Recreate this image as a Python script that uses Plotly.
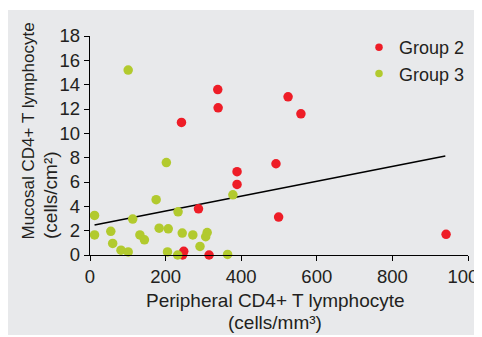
import plotly.graph_objects as go

# Group 2 (red)
g2_x = [338, 339, 242, 524, 558, 287, 248, 245, 315, 389, 389, 492, 499, 942]
g2_y = [13.6, 12.1, 10.9, 13.0, 11.6, 3.8, 0.3, 0.0, 0.0, 6.85, 5.8, 7.5, 3.12, 1.7]

# Group 3 (green)
g3_x = [101, 12, 12, 55, 60, 82, 101, 113, 132, 144, 175, 183, 202, 207, 205,
        233, 232, 244, 272, 291, 310, 306, 364, 378]
g3_y = [15.2, 3.25, 1.65, 1.95, 0.95, 0.4, 0.25, 2.95, 1.65, 1.25, 4.55, 2.2, 7.6,
        2.15, 0.25, 3.55, 0.0, 1.8, 1.65, 0.7, 1.85, 1.5, 0.05, 4.95]

# Regression line endpoints
fit_x = [12, 940]
fit_y = [2.47, 8.13]

x_ticks = [0, 200, 400, 600, 800, 1000]
y_ticks = [0, 2, 4, 6, 8, 10, 12, 14, 16, 18]

RED = "#ee1d27"
GREEN = "#b2ca2e"
TXT = "#231f20"
FONT = "Liberation Sans, Arial, Helvetica, sans-serif"

# page body margin of the html page
OFF = 8
W, H = 482 - OFF, 337 - OFF
L, T = 90 - OFF, 36 - OFF
R = W - (468 - OFF)
B = H - (255 - OFF)
pw = W - L - R
ph = H - T - B

def px(x):  # page pixel -> paper
    return (x - OFF - L) / pw

def py(y):
    return (H - B - (y - OFF)) / ph

fig = go.Figure()
fig.add_trace(go.Scatter(x=fit_x, y=fit_y, mode="lines",
                         line=dict(color="black", width=1.5),
                         showlegend=False, hoverinfo="skip"))
fig.add_trace(go.Scatter(x=g2_x, y=g2_y, mode="markers", name="Group 2",
                         marker=dict(color=RED, size=9.5), cliponaxis=False,
                         showlegend=False))
fig.add_trace(go.Scatter(x=g3_x, y=g3_y, mode="markers", name="Group 3",
                         marker=dict(color=GREEN, size=9.5), cliponaxis=False,
                         showlegend=False))
fig.add_trace(go.Scatter(x=[None], y=[None], mode="markers", name="Group 2",
                         marker=dict(color=RED, size=7.5)))
fig.add_trace(go.Scatter(x=[None], y=[None], mode="markers", name="Group 3",
                         marker=dict(color=GREEN, size=7.5)))

fig.add_shape(type="rect", xref="paper", yref="paper",
              x0=px(7), x1=px(490), y0=py(335), y1=py(10),
              fillcolor="#e8e9eb", line=dict(width=0), layer="below")

ann = dict(xref="paper", yref="paper", showarrow=False)
fig.add_annotation(text="Mucosal CD4+ T lymphocyte", x=px(27.5), y=py(131),
                   textangle=-90, xanchor="center", yanchor="middle",
                   font=dict(family=FONT, size=17, color=TXT), **ann)
# placed so that the rendered text spans the same rows as the original
fig.add_annotation(text="(cells/cm\u00b2)", x=px(50), y=py(195),
                   textangle=-90, xanchor="center", yanchor="middle",
                   font=dict(family=FONT, size=19, color=TXT), **ann)
fig.add_annotation(text="Peripheral CD4+ T lymphocyte", x=px(275.5), y=py(300),
                   xanchor="center", yanchor="middle",
                   font=dict(family=FONT, size=19, color=TXT), **ann)
fig.add_annotation(text="(cells/mm\u00b3)", x=px(275), y=py(322),
                   xanchor="center", yanchor="middle",
                   font=dict(family=FONT, size=19, color=TXT), **ann)

axis_common = dict(showline=True, linecolor="black", linewidth=1.3,
                   ticks="outside", ticklen=5, tickwidth=1.3, tickcolor="black",
                   showgrid=False, zeroline=False, automargin=False,
                   tickfont=dict(family=FONT, size=18.5, color=TXT))

fig.update_layout(
    width=W, height=H,
    margin=dict(l=L, r=R, t=T, b=B, autoexpand=False),
    paper_bgcolor="white",
    plot_bgcolor="rgba(0,0,0,0)",
    xaxis=dict(range=[0, 1000], tickvals=x_ticks, ticklabeloverflow="allow",
               **axis_common),
    yaxis=dict(range=[0, 18], tickvals=y_ticks, **axis_common),
    legend=dict(x=px(359), y=py(29), xanchor="left", yanchor="top",
                bgcolor="rgba(0,0,0,0)", tracegroupgap=0,
                font=dict(family=FONT, size=18, color=TXT)),
    showlegend=True,
)

fig.write_html("out.html")
